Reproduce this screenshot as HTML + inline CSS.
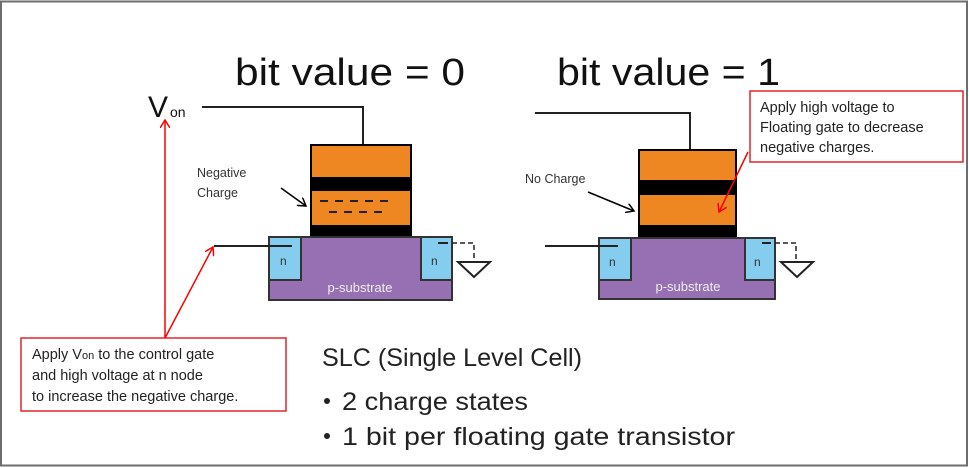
<!DOCTYPE html>
<html><head><meta charset="utf-8"><style>
html,body{margin:0;padding:0;background:#fff;}
svg{display:block;}
text{font-family:"Liberation Sans",sans-serif;}
</style></head><body>
<svg width="969" height="468" viewBox="0 0 969 468" xmlns="http://www.w3.org/2000/svg">
<rect x="1" y="1.5" width="966" height="464" fill="#fff" stroke="#6d6d6d" stroke-width="2"/>
<defs>
<marker id="ra" markerWidth="10" markerHeight="10" refX="8" refY="5" orient="auto" markerUnits="userSpaceOnUse"><path d="M0,0 L8,5 L0,10" fill="none" stroke="#f00" stroke-width="1.5"/></marker>
<marker id="ka" markerWidth="10" markerHeight="10" refX="8" refY="5" orient="auto" markerUnits="userSpaceOnUse"><path d="M0,0 L8,5 L0,10" fill="none" stroke="#000" stroke-width="1.5"/></marker>
</defs>
<!-- titles -->
<text x="235" y="85" font-size="38" textLength="230" lengthAdjust="spacingAndGlyphs" fill="#111">bit value = 0</text>
<text x="557" y="85" font-size="38" textLength="223" lengthAdjust="spacingAndGlyphs" fill="#111">bit value = 1</text>
<text x="148" y="117" font-size="30" fill="#111">V</text>
<text x="170" y="117" font-size="14" fill="#111">on</text>

<!-- left transistor -->
<polyline points="202,107 363,107 363,144" fill="none" stroke="#222" stroke-width="2"/>
<rect x="310" y="144" width="102" height="93" fill="#000"/>
<rect x="312" y="146" width="98" height="31" fill="#ee8722"/>
<rect x="312" y="191" width="98" height="34" fill="#ee8722"/>
<g stroke="#222" stroke-width="2">
<line x1="320" y1="201" x2="328" y2="201"/><line x1="335" y1="201" x2="343" y2="201"/><line x1="350" y1="201" x2="358" y2="201"/><line x1="365" y1="201" x2="373" y2="201"/><line x1="380" y1="201" x2="388" y2="201"/>
<line x1="329" y1="212" x2="337" y2="212"/><line x1="344" y1="212" x2="352" y2="212"/><line x1="359" y1="212" x2="367" y2="212"/><line x1="374" y1="212" x2="382" y2="212"/>
</g>
<rect x="269" y="237" width="183" height="63" fill="#9670b2" stroke="#333" stroke-width="2"/>
<rect x="269" y="237" width="32" height="43" fill="#84cdee" stroke="#333" stroke-width="2"/>
<rect x="421" y="237" width="31" height="43" fill="#84cdee" stroke="#333" stroke-width="2"/>
<text x="280" y="265" font-size="12" fill="#333">n</text>
<text x="431" y="265" font-size="12" fill="#333">n</text>
<text x="360" y="292" font-size="13" fill="#eee" text-anchor="middle">p-substrate</text>
<line x1="214" y1="246" x2="292" y2="246" stroke="#222" stroke-width="2"/>
<line x1="438" y1="243" x2="448" y2="243" stroke="#222" stroke-width="2"/>
<polyline points="452,243 474,243 474,262" fill="none" stroke="#222" stroke-width="1.5" stroke-dasharray="5,3"/>
<polygon points="458,262 490,262 474,277" fill="#fff" stroke="#222" stroke-width="2"/>
<text x="197" y="177" font-size="12.5" fill="#333">Negative</text>
<text x="197" y="197" font-size="12.5" fill="#333">Charge</text>
<line x1="281" y1="188" x2="306" y2="206" stroke="#000" stroke-width="1.5" marker-end="url(#ka)"/>

<!-- right transistor -->
<polyline points="535,113 690,113 690,149" fill="none" stroke="#222" stroke-width="2"/>
<rect x="638" y="149" width="99" height="89" fill="#000"/>
<rect x="640" y="151" width="95" height="29" fill="#ee8722"/>
<rect x="640" y="195" width="95" height="30" fill="#ee8722"/>
<rect x="599" y="238" width="176" height="61" fill="#9670b2" stroke="#333" stroke-width="2"/>
<rect x="599" y="238" width="32" height="42" fill="#84cdee" stroke="#333" stroke-width="2"/>
<rect x="745" y="238" width="30" height="42" fill="#84cdee" stroke="#333" stroke-width="2"/>
<text x="609" y="266" font-size="12" fill="#333">n</text>
<text x="754" y="266" font-size="12" fill="#333">n</text>
<text x="688" y="291" font-size="13" fill="#eee" text-anchor="middle">p-substrate</text>
<line x1="545" y1="246" x2="618" y2="246" stroke="#222" stroke-width="2"/>
<line x1="762" y1="243" x2="771" y2="243" stroke="#222" stroke-width="2"/>
<polyline points="775,243 796,243 796,262" fill="none" stroke="#222" stroke-width="1.5" stroke-dasharray="5,3"/>
<polygon points="781,262 813,262 797,277" fill="#fff" stroke="#222" stroke-width="2"/>
<text x="525" y="183" font-size="12.5" fill="#333">No Charge</text>
<line x1="588" y1="192" x2="634" y2="211" stroke="#000" stroke-width="1.5" marker-end="url(#ka)"/>

<!-- red boxes -->
<rect x="750" y="91" width="213" height="71" fill="#fff" stroke="#e0262c" stroke-width="1.5"/>
<text x="760" y="112" font-size="14.5" fill="#222">Apply high voltage to</text>
<text x="760" y="132" font-size="14.5" fill="#222">Floating gate to decrease</text>
<text x="760" y="152" font-size="14.5" fill="#222">negative charges.</text>
<line x1="748" y1="152" x2="719" y2="212" stroke="#f00" stroke-width="1.5" marker-end="url(#ra)"/>

<rect x="21" y="338" width="265" height="73" fill="#fff" stroke="#e0262c" stroke-width="1.5"/>
<text x="32" y="359" font-size="14.5" fill="#222">Apply V<tspan font-size="11">on</tspan> to the control gate</text>
<text x="32" y="380" font-size="14.5" fill="#222">and high voltage at n node</text>
<text x="32" y="401" font-size="14.5" fill="#222">to increase the negative charge.</text>
<line x1="165" y1="338" x2="165" y2="120" stroke="#f00" stroke-width="1.5" marker-end="url(#ra)"/>
<line x1="165" y1="338" x2="213" y2="247" stroke="#f00" stroke-width="1.5" marker-end="url(#ra)"/>

<!-- SLC text -->
<text x="322" y="366" font-size="25" textLength="260" lengthAdjust="spacingAndGlyphs" fill="#222">SLC (Single Level Cell)</text>
<circle cx="327" cy="401" r="3" fill="#222"/>
<text x="342" y="410" font-size="25" textLength="186" lengthAdjust="spacingAndGlyphs" fill="#222">2 charge states</text>
<circle cx="327" cy="436" r="3" fill="#222"/>
<text x="342" y="445" font-size="25" textLength="393" lengthAdjust="spacingAndGlyphs" fill="#222">1 bit per floating gate transistor</text>
</svg>
</body></html>
